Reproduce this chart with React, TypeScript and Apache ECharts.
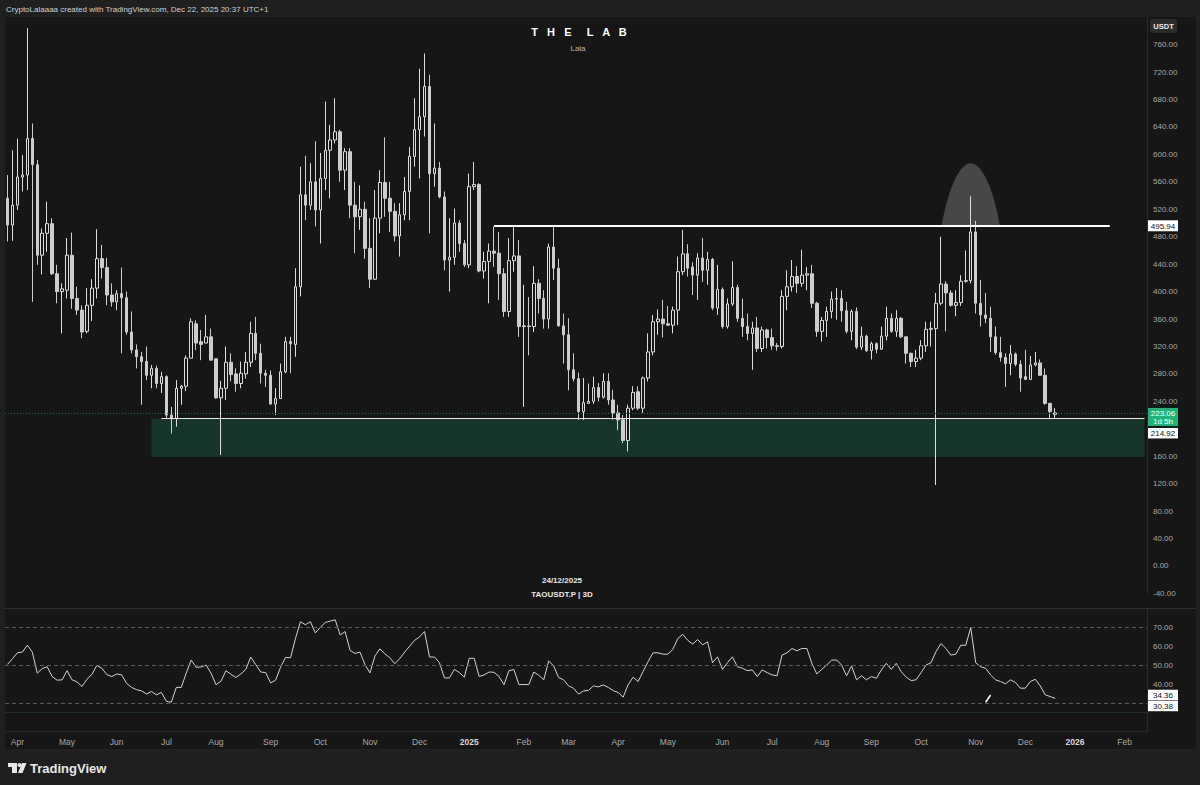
import { useEffect, useRef } from "react";
import * as echarts from "echarts";

// ---------- data ----------
const START_UTC = Date.UTC(2024, 2, 28); // first 3D candle
const BAR_DAYS = 3;
const FUTURE_BARS = 18;

const OPEN = [
  536, 497, 526, 567, 570, 623, 585, 453, 485, 499,
  426, 400, 402, 453, 390, 373, 342, 380, 405, 448,
  435, 395, 385, 397, 391, 341, 315, 305, 298, 278,
  288, 266, 276, 220, 215, 259, 262, 303, 353, 327,
  325, 334, 302, 245, 259, 297, 280, 266, 280, 297,
  339, 310, 281, 278, 236, 244, 283, 327, 323, 407,
  541, 526, 560, 519, 565, 606, 621, 633, 577, 604,
  526, 509, 520, 463, 418, 507, 559, 536, 517, 481,
  512, 546, 597, 636, 655, 699, 572, 580, 538, 446,
  450, 500, 470, 439, 553, 556, 430, 444, 459, 456,
  426, 371, 445, 452, 349, 350, 349, 412, 390, 360,
  465, 434, 350, 337, 286, 273, 225, 237, 240, 260,
  246, 269, 242, 223, 213, 183, 230, 254, 230, 274,
  312, 356, 360, 353, 351, 373, 429, 455, 436, 424,
  449, 431, 447, 376, 403, 349, 382, 406, 361, 349,
  339, 347, 317, 344, 333, 321, 320, 393, 407, 422,
  412, 424, 426, 383, 342, 358, 371, 389, 390, 372,
  342, 371, 319, 335, 314, 324, 316, 335, 361, 342,
  361, 334, 310, 298, 303, 321, 345, 346, 383, 411,
  398, 380, 384, 415, 416, 487, 383, 366, 361, 334,
  311, 304, 295, 309, 294, 276, 272, 293, 296, 278,
  237, 221,
];
const CLOSE = [
  497, 526, 567, 570, 623, 585, 453, 485, 499, 426,
  400, 404, 453, 390, 373, 341, 380, 405, 448, 435,
  395, 385, 397, 391, 341, 315, 305, 298, 278, 288,
  266, 276, 220, 215, 259, 262, 303, 356, 325, 323,
  334, 300, 245, 259, 297, 279, 266, 281, 297, 339,
  310, 281, 278, 236, 244, 283, 327, 324, 407, 541,
  526, 560, 519, 565, 606, 621, 633, 577, 604, 526,
  509, 520, 463, 418, 507, 559, 536, 517, 481, 512,
  546, 597, 636, 655, 699, 572, 580, 538, 446, 450,
  500, 470, 439, 553, 556, 430, 444, 459, 456, 426,
  371, 445, 452, 349, 350, 349, 412, 390, 360, 465,
  434, 350, 337, 286, 273, 225, 238, 240, 260, 246,
  269, 242, 223, 213, 183, 230, 253, 230, 274, 312,
  356, 360, 353, 351, 373, 429, 455, 434, 424, 449,
  431, 447, 376, 403, 349, 382, 406, 361, 349, 339,
  347, 317, 344, 333, 321, 320, 393, 407, 422, 412,
  424, 426, 383, 342, 358, 371, 389, 390, 372, 342,
  371, 319, 335, 314, 324, 316, 335, 361, 342, 361,
  334, 310, 298, 303, 321, 345, 346, 383, 411, 398,
  380, 384, 415, 416, 487, 383, 366, 361, 334, 311,
  304, 295, 309, 294, 274, 272, 293, 296, 278, 237,
  225, 223.06,
];
const HIGH = [
  570, 606, 623, 599, 784, 645, 592, 492, 531, 507,
  439, 412, 478, 486, 407, 380, 405, 418, 491, 468,
  449, 412, 402, 435, 400, 371, 323, 312, 320, 293,
  292, 283, 278, 232, 271, 264, 307, 361, 358, 344,
  366, 346, 302, 270, 320, 310, 288, 298, 312, 356,
  363, 324, 286, 285, 259, 295, 334, 334, 434, 582,
  598, 587, 619, 602, 677, 643, 682, 636, 609, 609,
  560, 555, 531, 507, 548, 577, 625, 560, 529, 529,
  567, 611, 682, 725, 747, 716, 645, 589, 546, 507,
  521, 504, 475, 572, 589, 558, 458, 470, 495, 487,
  434, 478, 497, 475, 410, 392, 437, 418, 402, 470,
  495, 448, 368, 361, 310, 282, 274, 266, 276, 267,
  281, 281, 257, 235, 220, 235, 262, 262, 276, 339,
  366, 374, 388, 379, 378, 451, 490, 469, 443, 456,
  478, 458, 449, 439, 406, 390, 444, 410, 390, 368,
  356, 363, 349, 346, 346, 325, 402, 431, 446, 437,
  461, 436, 439, 385, 363, 378, 400, 405, 402, 385,
  374, 377, 349, 337, 327, 326, 349, 378, 368, 373,
  363, 334, 311, 315, 329, 356, 356, 398, 480, 415,
  402, 402, 424, 460, 539, 503, 417, 398, 378, 349,
  334, 310, 322, 311, 300, 315, 306, 312, 301, 288,
  238, 230,
];
const LOW = [
  473, 474, 519, 546, 548, 385, 439, 425, 458, 424,
  383, 339, 390, 375, 366, 332, 339, 357, 390, 419,
  380, 378, 373, 310, 337, 310, 288, 235, 271, 259,
  259, 252, 215, 193, 203, 235, 255, 303, 315, 300,
  325, 300, 244, 162, 242, 269, 254, 259, 273, 290,
  300, 266, 261, 235, 220, 244, 281, 281, 305, 393,
  504, 519, 495, 470, 548, 536, 616, 560, 548, 507,
  456, 490, 448, 405, 417, 485, 509, 487, 473, 451,
  504, 504, 582, 565, 626, 485, 553, 536, 431, 400,
  439, 458, 436, 434, 548, 428, 419, 383, 436, 388,
  363, 363, 429, 334, 232, 307, 341, 368, 346, 346,
  417, 349, 295, 256, 269, 213, 213, 236, 236, 240,
  244, 235, 213, 198, 179, 167, 227, 227, 223, 269,
  307, 337, 333, 350, 339, 351, 424, 422, 395, 388,
  414, 410, 373, 366, 346, 346, 379, 356, 334, 329,
  286, 312, 312, 317, 315, 314, 317, 373, 400, 398,
  407, 402, 376, 334, 327, 334, 361, 359, 356, 339,
  329, 316, 315, 312, 301, 310, 315, 329, 340, 334,
  332, 295, 290, 290, 300, 312, 320, 118, 380, 342,
  378, 364, 379, 413, 412, 368, 349, 354, 312, 308,
  298, 261, 278, 291, 254, 271, 271, 291, 277, 235,
  214, 215,
];
const RSI = [
  50.3, 53.3, 56.4, 56.8, 60.4, 56.8, 45.7, 48.1, 49.1, 43.9,
  42, 42.2, 47, 42.2, 41.1, 38.7, 42.5, 45.1, 49.8, 48.3,
  45, 43.9, 45.3, 44.8, 40.3, 38.2, 37, 36.4, 34.7, 36.1,
  34.3, 35.6, 30.9, 30.4, 38.2, 38.2, 45.7, 52.6, 48.8, 49,
  50, 45.7, 39.6, 41.5, 47, 45.1, 43.4, 45.3, 47.7, 54.2,
  50.2, 46.3, 46, 40.6, 42, 48.8, 54, 53.8, 63.9, 72.8,
  71.2, 72.8, 66.9, 69.8, 72.4, 73.1, 73.8, 65.8, 67.6, 57.7,
  56.1, 56.8, 50.2, 45.8, 54.7, 58.5, 55.9, 53.8, 50.7, 53.3,
  56.8, 59.9, 63, 64.8, 67.6, 54.2, 54.2, 51.2, 43.2, 43.2,
  47.7, 46, 43.6, 53.5, 53.5, 43.9, 44.8, 46.3, 46.2, 43.9,
  39.6, 47, 47.6, 39.7, 39.7, 39.7, 46.3, 44.6, 42.2, 52.1,
  49.5, 43.4, 42.2, 39, 37.8, 34.7, 36.3, 36.6, 39, 38.5,
  39.5, 38.2, 36.5, 35.5,
  33.1, 39.6, 43.6, 41.3, 46.5, 51.7, 56.4, 56.4, 55.7, 55.7,
  58.2, 63.9, 66.2, 63, 61, 63.4, 60.6, 62.2, 51.2, 54.3,
  47.7, 51.2, 54.3, 49.1, 48.3, 47, 47.4, 43.9, 47.4, 46,
  44.8, 44.3, 55.2, 56.4, 58.7, 57.5, 58.7, 58.7, 50.9, 45.3,
  47.7, 50, 52.6, 52.6, 50, 44.3, 49.5, 42.2, 44.3, 42.2,
  43.9, 43, 47.4, 50.9, 47.7, 50.9, 46.5, 43.6, 41.8, 42.2,
  46, 50, 51.2, 57, 61.3, 58.7, 55.2, 55.7, 60.4, 60.4,
  69.7, 51.2, 49.1, 48.3, 44.8, 42.2, 41.3, 40.1, 42.2, 40.8,
  37.8, 37.8, 41.3, 42.5, 39, 34.3, 33.4, 32.4,
];

const RESISTANCE = 495.94;
const RES_FROM = 98; // candle index where the drawn line starts
const RES_TO = 222;
const SUPPORT = 214.92;
const SUPPORT_FROM = 31;
const ZONE_FROM = 29;
const ZONE_LOW = 159;
const LAST_PRICE = 223.06;
const TIME_LEFT = "1d 5h";
const RSI_LAST = 34.36;
const RSI_SECOND = 30.38;
const RSI_LEVELS = [70, 50, 30];
const RSI_PANE_LINE = 25;
const RSI_LABELS = [40, 50, 60, 70];
const PRICE_LABELS_HIDDEN = [200, 800]; // covered by price tags / off-pane in the reference
const BUMP_BAR = 194;
const BUMP_TOP = 587;
const SLASH = [
  [197, 30.4],
  [198, 34.2],
];

const MONTHS = ["Jan", "Feb", "Mar", "Apr", "May", "Jun", "Jul", "Aug", "Sep", "Oct", "Nov", "Dec"];

const CATS: string[] = [];
for (let i = 0; i < OPEN.length + FUTURE_BARS; i++) {
  CATS.push(new Date(START_UTC + i * BAR_DAYS * 86400000).toISOString().slice(0, 10));
}

// ---------- style ----------
const FONT = "'Liberation Sans', Arial, sans-serif";
const PLOT_BG = "#161616";
const FRAME_BG = "#1f1f1f";
const AXIS_TXT = "#a9a9a9";
const AXIS_LINE = "#1f3129";

export default function App() {
  const ref = useRef<HTMLDivElement>(null);

  useEffect(() => {
    const chart = echarts.init(ref.current!, null, { renderer: "svg" });
    const candles = OPEN.map((o, i) => [o, CLOSE[i], LOW[i], HIGH[i]]);

    chart.setOption({
      animation: false,
      backgroundColor: PLOT_BG,
      grid: [
        { left: 5, right: 53, top: 17.2, height: 576.2 },
        { left: 5, right: 53, top: 608, height: 123.5 },
      ],
      xAxis: [
        {
          type: "category",
          gridIndex: 0,
          data: CATS,
          boundaryGap: true,
          axisLine: { show: false },
          axisTick: { show: false },
          axisLabel: { show: false },
          splitLine: { show: false },
        },
        {
          type: "category",
          gridIndex: 1,
          data: CATS,
          boundaryGap: true,
          axisLine: { show: true, lineStyle: { color: AXIS_LINE } },
          axisTick: { show: false },
          splitLine: { show: false },
          axisLabel: {
            color: AXIS_TXT,
            fontSize: 8.5,
            fontFamily: FONT,
            margin: 6,
            interval: (index: number) =>
              index > 0 && CATS[index].slice(0, 7) !== CATS[index - 1].slice(0, 7),
            formatter: (v: string) => {
              const m = +v.slice(5, 7);
              return m === 1 ? `{y|${v.slice(0, 4)}}` : MONTHS[m - 1];
            },
            rich: {
              y: { color: "#d6d6d6", fontSize: 8.5, fontWeight: "bold", fontFamily: FONT },
            },
          },
        },
      ],
      yAxis: [
        {
          type: "value",
          gridIndex: 0,
          position: "right",
          min: -40,
          max: 800,
          interval: 40,
          axisLine: { show: true, lineStyle: { color: AXIS_LINE } },
          axisTick: { show: false },
          splitLine: { show: false },
          axisLabel: {
            color: AXIS_TXT,
            fontSize: 8,
            fontFamily: FONT,
            margin: 6,
            showMaxLabel: false,
            formatter: (v: number) => (PRICE_LABELS_HIDDEN.includes(v) ? "" : v.toFixed(2)),
          },
        },
        {
          type: "value",
          gridIndex: 1,
          position: "right",
          min: 15,
          max: 80,
          interval: 5,
          axisLine: { show: true, lineStyle: { color: AXIS_LINE } },
          axisTick: { show: false },
          splitLine: { show: false },
          axisLabel: {
            color: AXIS_TXT,
            fontSize: 8,
            fontFamily: FONT,
            margin: 6,
            formatter: (v: number) => (RSI_LABELS.includes(v) ? v.toFixed(2) : ""),
          },
        },
      ],
      series: [
        {
          type: "candlestick",
          xAxisIndex: 0,
          yAxisIndex: 0,
          data: candles,
          barWidth: 3,
          itemStyle: {
            color: PLOT_BG,
            borderColor: "#dedede",
            color0: "#cdcdcd",
            borderColor0: "#cdcdcd",
            borderWidth: 1,
          },
          markArea: {
            silent: true,
            itemStyle: { color: "#17362a" },
            data: [[{ coord: [CATS[ZONE_FROM], ZONE_LOW] }, { coord: [CATS[CATS.length - 1], SUPPORT] }]],
          },
          markLine: {
            silent: true,
            symbol: ["none", "none"],
            label: { show: false },
            data: [
              [
                { coord: [CATS[RES_FROM], RESISTANCE], lineStyle: { color: "#ffffff", width: 2, type: "solid" } },
                { coord: [CATS[RES_TO], RESISTANCE] },
              ],
              [
                { coord: [CATS[SUPPORT_FROM], SUPPORT], lineStyle: { color: "#e6e6e6", width: 1, type: "solid" } },
                { coord: [CATS[CATS.length - 1], SUPPORT] },
              ],
              { yAxis: LAST_PRICE, lineStyle: { color: "#1f6e52", width: 1, type: [1, 2] } },
            ],
          },
        },
        {
          type: "line",
          xAxisIndex: 1,
          yAxisIndex: 1,
          data: RSI,
          showSymbol: false,
          lineStyle: { color: "#d4d4d4", width: 1 },
          markLine: {
            silent: true,
            symbol: ["none", "none"],
            label: { show: false },
            data: [
              ...RSI_LEVELS.map((v) => ({ yAxis: v, lineStyle: { color: "#5c5c5c", width: 1, type: [4, 3] } })),
              { yAxis: RSI_PANE_LINE, lineStyle: { color: "#1f3129", width: 1, type: "solid" } },
              [
                { coord: [CATS[SLASH[0][0]], SLASH[0][1]], lineStyle: { color: "#ffffff", width: 1.5, type: "solid" } },
                { coord: [CATS[SLASH[1][0]], SLASH[1][1]] },
              ],
            ],
          },
        },
      ],
    });

    // overlays anchored through the chart's own coordinate system
    const P = (x: number, y: number, g = 0) => chart.convertToPixel({ gridIndex: g }, [x, y]) as number[];
    const [bx, by] = P(BUMP_BAR, RESISTANCE);
    const [, btop] = P(BUMP_BAR, BUMP_TOP);
    const rx = 29;
    const bump: number[][] = [];
    for (let k = 0; k <= 40; k++) {
      const u = -1 + (2 * k) / 40;
      const h = Math.pow(1 - u * u, 0.85);
      bump.push([bx + rx * u, by - (by - btop) * h]);
    }
    const axisX = 1148;
    const tagBox = (y: number, h: number, bg: string) => ({
      type: "rect",
      z: 100,
      shape: { x: axisX, y, width: 30, height: h },
      style: { fill: bg },
    });
    const tagText = (yc: number, text: string, fg: string) => ({
      type: "text",
      z: 101,
      x: axisX + 15,
      y: yc,
      style: {
        text,
        fill: fg,
        font: `8px ${FONT}`,
        textAlign: "center",
        textVerticalAlign: "middle",
        verticalAlign: "middle",
      },
    });
    const yRes = P(0, RESISTANCE)[1];
    const yLast = P(0, LAST_PRICE)[1];
    const ySup = Math.max(P(0, SUPPORT)[1] - 5, yLast - 5 + 20);
    const yR1 = P(0, RSI_LAST, 1)[1];
    const yR2 = Math.max(P(0, RSI_SECOND, 1)[1] - 5, yR1 - 5 + 11);

    const txt = (x: number, y: number, text: string, font: string, fill: string, align = "left") => ({
      type: "text",
      x,
      y,
      z: 100,
      style: { text, font, fill, textAlign: align, textVerticalAlign: "middle", verticalAlign: "middle" },
    });

    chart.setOption({
      graphic: {
        elements: [
          { type: "polygon", z: 0, shape: { points: bump }, style: { fill: "#474747" } },
          // frame
          { type: "rect", z: 90, shape: { x: 0, y: 0, width: 1200, height: 17 }, style: { fill: FRAME_BG } },
          { type: "rect", z: 90, shape: { x: 0, y: 0, width: 5, height: 752 }, style: { fill: FRAME_BG } },
          { type: "rect", z: 90, shape: { x: 1196, y: 0, width: 4, height: 752 }, style: { fill: FRAME_BG } },
          { type: "rect", z: 90, shape: { x: 0, y: 751, width: 1200, height: 34 }, style: { fill: FRAME_BG } },
          { type: "line", z: 95, shape: { x1: 5, y1: 608.5, x2: 1196, y2: 608.5 }, style: { stroke: "#26332e", lineWidth: 1 } },
          { type: "line", z: 95, shape: { x1: 5, y1: 750, x2: 1196, y2: 750 }, style: { stroke: "#2a2a2a", lineWidth: 1 } },
          txt(6, 9, "CryptoLalaaaa created with TradingView.com, Dec 22, 2025 20:37 UTC+1", `8px ${FONT}`, "#d2d2d2"),
          txt(579, 32, "T   H   E     L   A   B", `bold 11px ${FONT}`, "#ffffff", "center"),
          txt(578, 48, "Lala", `8px ${FONT}`, "#b8b8b8", "center"),
          txt(562, 580, "24/12/2025", `bold 8px ${FONT}`, "#e8e8e8", "center"),
          txt(562, 594, "TAOUSDT.P | 3D", `bold 8px ${FONT}`, "#e8e8e8", "center"),
          // USDT box
          { type: "rect", z: 100, shape: { x: 1150, y: 19, width: 27, height: 14, r: 2 }, style: { fill: "#2b2b2b" } },
          txt(1163.5, 26, "USDT", `bold 7.5px ${FONT}`, "#eeeeee", "center"),
          // price tags
          tagBox(yRes - 5.5, 11, "#ffffff"),
          tagText(yRes + 0.5, RESISTANCE.toFixed(2), "#111111"),
          tagBox(yLast - 5, 18, "#1fb57a"),
          tagText(yLast + 0.5, LAST_PRICE.toFixed(2), "#ffffff"),
          tagText(yLast + 8.5, TIME_LEFT, "#ffffff"),
          tagBox(ySup, 10.5, "#ffffff"),
          tagText(ySup + 5.75, SUPPORT.toFixed(2), "#111111"),
          tagBox(yR1 - 5, 10.5, "#ffffff"),
          tagText(yR1 + 0.75, RSI_LAST.toFixed(2), "#111111"),
          tagBox(yR2, 10.5, "#ffffff"),
          tagText(yR2 + 5.75, RSI_SECOND.toFixed(2), "#111111"),
          // TradingView logo
          { type: "rect", z: 100, shape: { x: 8, y: 763, width: 9, height: 4 }, style: { fill: "#e8e8e8" } },
          { type: "rect", z: 100, shape: { x: 12, y: 763, width: 5, height: 10 }, style: { fill: "#e8e8e8" } },
          { type: "circle", z: 100, shape: { cx: 19.5, cy: 765, r: 2 }, style: { fill: "#e8e8e8" } },
          {
            type: "polygon",
            z: 100,
            shape: { points: [[22, 763], [26.5, 763], [22.5, 773], [18, 773]] },
            style: { fill: "#e8e8e8" },
          },
          txt(30, 768.5, "TradingView", `600 13px ${FONT}`, "#e8e8e8"),
        ],
      },
    });

    return () => chart.dispose();
  }, []);

  return <div ref={ref} style={{ position: "fixed", left: 0, top: 0, width: 1200, height: 785 }} />;
}
